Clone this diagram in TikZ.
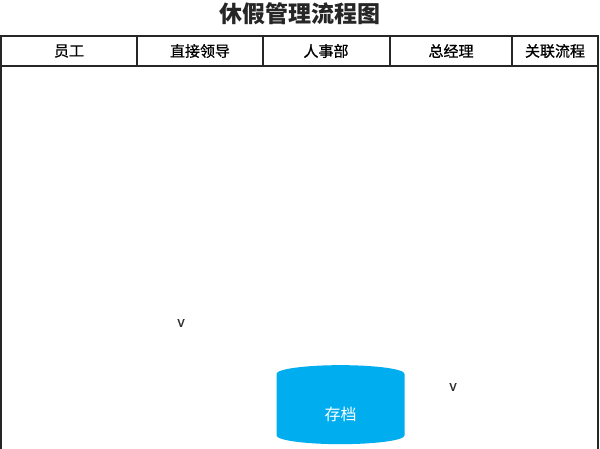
\documentclass[tikz,border=0pt]{standalone}
\usepackage{fontspec}
\setmainfont{Noto Sans CJK SC}
\newfontfamily\headfont[FakeBold=0.8]{Noto Sans CJK SC}
\usetikzlibrary{shapes.geometric}
\definecolor{archiveblue}{RGB}{0,174,239}
\begin{document}
\begin{tikzpicture}[x=1pt,y=-1pt,
  frameline/.style={draw=black!85,line width=1.2pt},
  headtext/.style={font=\headfont\fontsize{15}{16}\selectfont,text=black},
  smallmark/.style={font=\headfont\fontsize{14}{14}\selectfont,text=black!80},
  store/.style={cylinder,shape border rotate=90,aspect=0.45,fill=archiveblue,draw=none,minimum width=128pt,minimum height=79pt,text=white,font=\fontsize{16}{16}\selectfont,text height=22pt,text depth=2pt}]
\useasboundingbox (0,0) rectangle (600,449);
\fill[white] (0,0) rectangle (600,449);
\node[font=\bfseries\fontsize{23}{24}\selectfont,text=black!85] (title) at (300,14) {休假管理流程图};
\draw[frameline] (1,449) -- (1,36) -- (598,36) -- (598,449);
\draw[frameline] (1,66) -- (598,66);
\draw[frameline] (137,36) -- (137,66);
\draw[frameline] (263,36) -- (263,66);
\draw[frameline] (390,36) -- (390,66);
\draw[frameline] (512,36) -- (512,66);
\node[headtext] (h1) at (69,51) {员工};
\node[headtext] (h2) at (200,51) {直接领导};
\node[headtext] (h3) at (326,51) {人事部};
\node[headtext] (h4) at (451,51) {总经理};
\node[headtext] (h5) at (555,51) {关联流程};
\node[smallmark] (v1) at (181,323) {v};
\node[smallmark] (v2) at (453,387) {v};
\node[store] (archive) at (340.5,410.5) {存档};
\end{tikzpicture}
\end{document}
